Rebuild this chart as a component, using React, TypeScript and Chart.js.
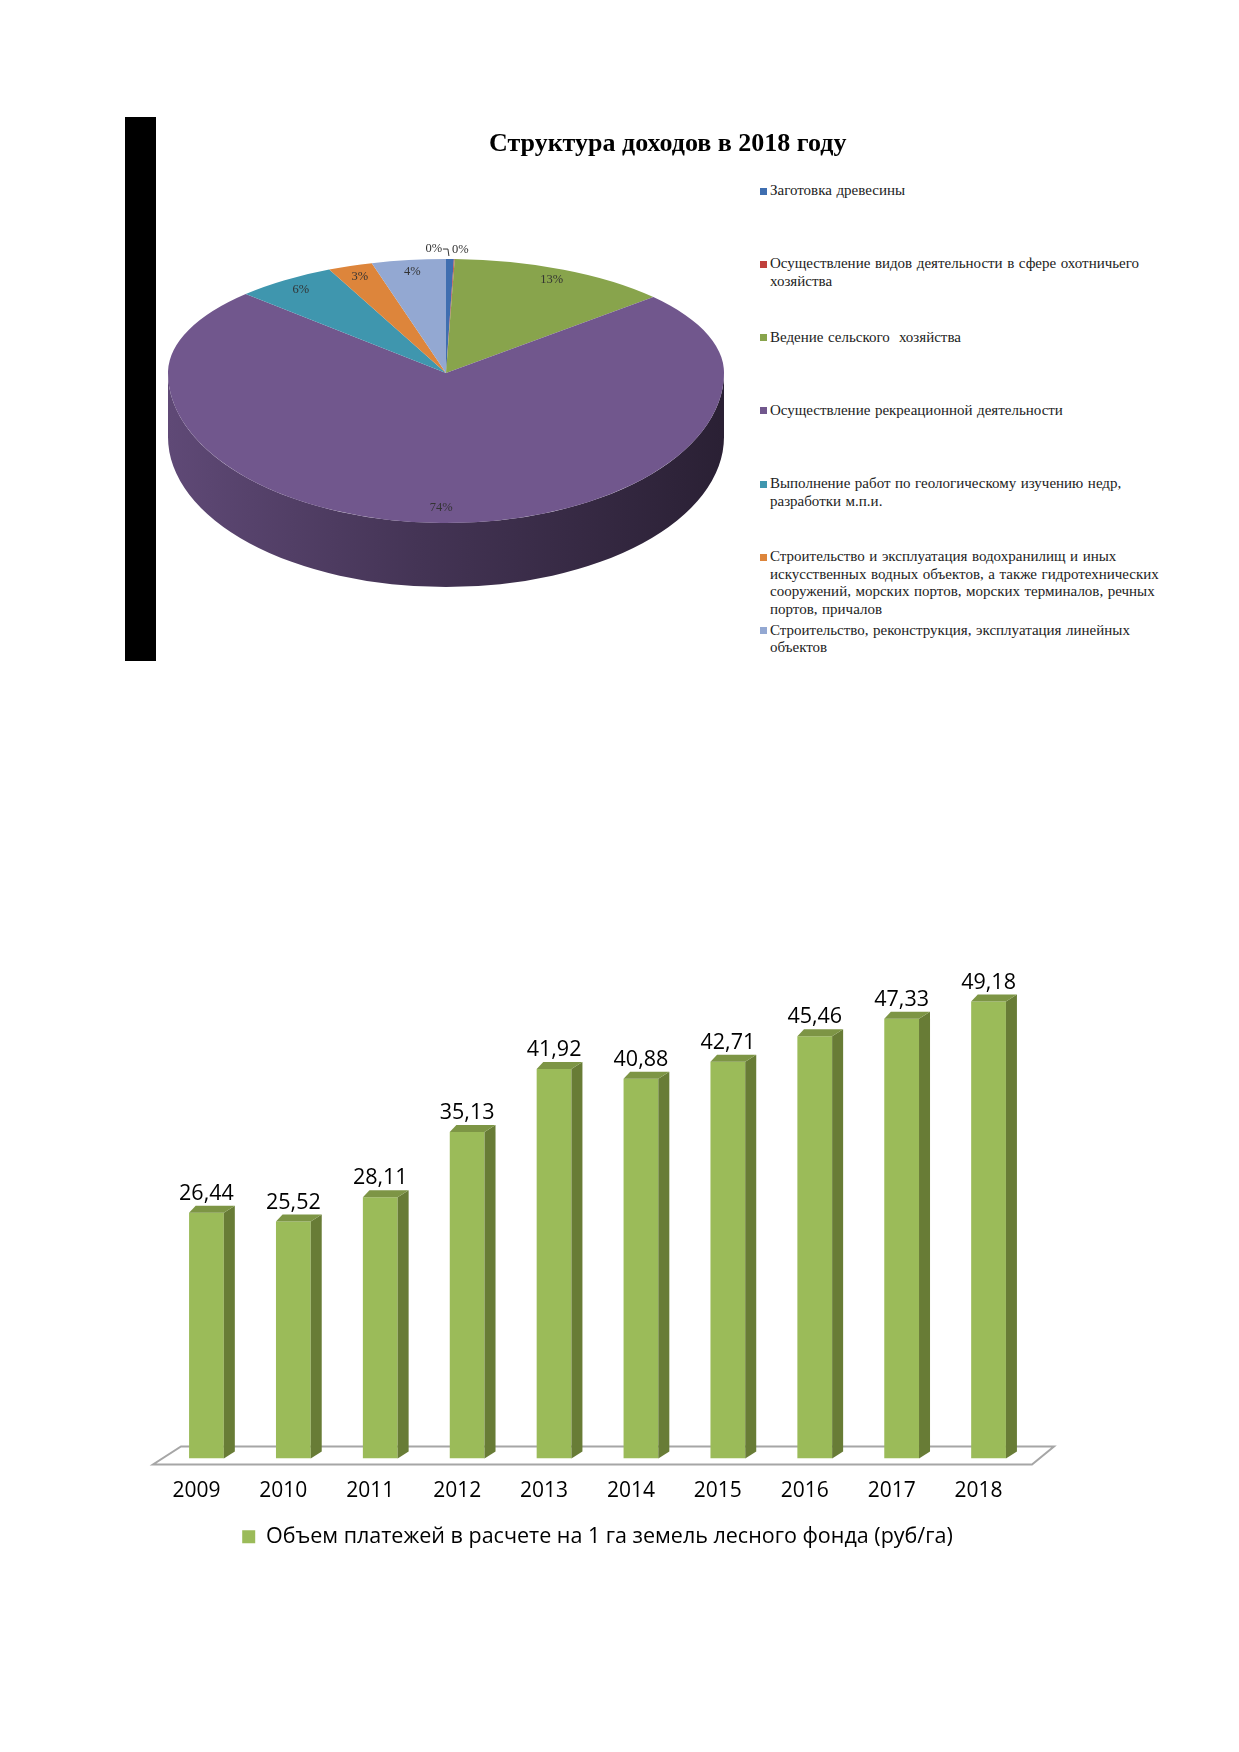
import { useEffect, useRef } from "react";
import Chart from "chart.js/auto";

// --- pie: structure of income, 2018 ---
const PIE_TITLE = "Структура доходов в 2018 году";
const PIE_LABELS = [
  "Заготовка древесины",
  "Осуществление видов деятельности в сфере охотничьего\nхозяйства",
  "Ведение сельского  хозяйства",
  "Осуществление рекреационной деятельности",
  "Выполнение работ по геологическому изучению недр,\nразработки м.п.и.",
  "Строительство и эксплуатация водохранилищ и иных\nискусственных водных объектов, а также гидротехнических\nсооружений, морских портов, морских терминалов, речных\nпортов, причалов",
  "Строительство, реконструкция, эксплуатация линейных\nобъектов",
];
const PIE_VALUES = [0.45, 0.05, 12.9, 73.8, 5.9, 2.6, 4.3];
const PIE_COLORS = ["#3f6eb0", "#c0403c", "#88a44c", "#71578d", "#3f96ae", "#dd853b", "#93a8d2"];

// --- bars: payments per 1 ha of forest fund ---
const YEARS = ["2009", "2010", "2011", "2012", "2013", "2014", "2015", "2016", "2017", "2018"];
const PAYMENTS = [26.44, 25.52, 28.11, 35.13, 41.92, 40.88, 42.71, 45.46, 47.33, 49.18];
const BAR_SERIES = "Объем платежей в расчете на 1 га земель лесного фонда (руб/га)";

const BAR_FRONT = "#9bbb59";
const BAR_SIDE = "#687c36";
const BAR_TOP = "#7d9545";

// fake perspective for the pie: far half flatter than the near half
const TOP_SQUASH = 0.41;
const BOTTOM_SQUASH = 0.54;
const PIE_DEPTH = 64;

function shade(hex: string, f: number) {
  const n = parseInt(hex.slice(1), 16);
  const r = Math.round(((n >> 16) & 255) * f);
  const g = Math.round(((n >> 8) & 255) * f);
  const b = Math.round((n & 255) * f);
  return `rgb(${r}, ${g}, ${b})`;
}

const pie3d = {
  id: "pie3d",
  beforeDatasetsDraw(chart: any) {
    const { ctx, width, height } = chart;
    const arcs = chart.getDatasetMeta(0).data as any[];
    const { x: cx, y: cy, outerRadius: r } = arcs[0];
    const ryB = r * BOTTOM_SQUASH;

    // side wall, only the front half is visible
    arcs.forEach((arc, i) => {
      const a0 = Math.max(arc.startAngle, 0);
      const a1 = Math.min(arc.endAngle, Math.PI);
      if (a1 <= a0) return;
      const g = ctx.createLinearGradient(cx - r, 0, cx + r, 0);
      g.addColorStop(0, shade(PIE_COLORS[i], 0.84));
      g.addColorStop(0.45, shade(PIE_COLORS[i], 0.6));
      g.addColorStop(1, shade(PIE_COLORS[i], 0.37));
      ctx.save();
      ctx.beginPath();
      ctx.ellipse(cx, cy, r, ryB, 0, a0, a1);
      ctx.ellipse(cx, cy + PIE_DEPTH, r, ryB, 0, a1, a0, true);
      ctx.closePath();
      ctx.fillStyle = g;
      ctx.fill();
      ctx.restore();
    });

    // top face, drawn twice with a different squash above / below the centre
    const halves: Array<[number, number, number]> = [
      [0, cy, TOP_SQUASH],
      [cy, height - cy, BOTTOM_SQUASH],
    ];
    halves.forEach(([y0, h, k]) => {
      ctx.save();
      ctx.beginPath();
      ctx.rect(0, y0, width, h);
      ctx.clip();
      ctx.translate(cx, cy);
      ctx.scale(1, k);
      ctx.translate(-cx, -cy);
      arcs.forEach((a) => a.draw(ctx));
      ctx.restore();
    });
    return false;
  },
  afterDraw(chart: any) {
    const { ctx } = chart;
    const arcs = chart.getDatasetMeta(0).data as any[];
    const { x: cx, y: cy, outerRadius: r } = arcs[0];
    const total = PIE_VALUES.reduce((s, v) => s + v, 0);
    ctx.save();
    ctx.font = '12.5px "Liberation Serif", serif';
    ctx.fillStyle = "#333";
    ctx.strokeStyle = "#333";
    ctx.lineWidth = 1;
    ctx.textAlign = "center";
    ctx.textBaseline = "middle";
    arcs.forEach((arc, i) => {
      const share = PIE_VALUES[i] / total;
      const text = `${Math.round(share * 100)}%`;
      const mid = (arc.startAngle + arc.endAngle) / 2;
      const k = Math.sin(mid) < 0 ? TOP_SQUASH : BOTTOM_SQUASH;
      if (share < 0.01) {
        const px = cx + r * Math.cos(mid);
        const py = cy + r * k * Math.sin(mid);
        if (i % 2 === 0) {
          ctx.fillText(text, px - 16, py - 10);
          ctx.beginPath();
          ctx.moveTo(px - 7, py - 10);
          ctx.lineTo(px - 2, py - 10);
          ctx.lineTo(px - 1, py - 3);
          ctx.stroke();
        } else {
          ctx.fillText(text, px + 6, py - 9);
        }
      } else {
        const f = 0.9;
        ctx.fillText(text, cx + f * r * Math.cos(mid), cy + f * r * k * Math.sin(mid));
      }
    });
    ctx.restore();
  },
};

const bar3d = {
  id: "bar3d",
  beforeDatasetsDraw(chart: any) {
    const { ctx, chartArea } = chart;
    const base = chart.scales.y.getPixelForValue(0);
    ctx.save();
    ctx.beginPath();
    ctx.moveTo(chartArea.left - 10, base + 6);
    ctx.lineTo(chartArea.right, base + 6);
    ctx.lineTo(chartArea.right + 22, base - 12);
    ctx.lineTo(chartArea.left + 18, base - 12);
    ctx.closePath();
    ctx.fillStyle = "#ffffff";
    ctx.fill();
    ctx.strokeStyle = "#a6a6a6";
    ctx.lineWidth = 2;
    ctx.stroke();
    ctx.restore();
  },
  afterDatasetsDraw(chart: any) {
    const { ctx } = chart;
    const dx = 11;
    const dy = 7;
    ctx.save();
    chart.getDatasetMeta(0).data.forEach((bar: any, i: number) => {
      const { x, y, base, width } = bar.getProps(["x", "y", "base", "width"], true);
      const l = x - width / 2;
      const r = x + width / 2;
      ctx.fillStyle = BAR_SIDE;
      ctx.beginPath();
      ctx.moveTo(r, base);
      ctx.lineTo(r + dx, base - dy);
      ctx.lineTo(r + dx, y - dy);
      ctx.lineTo(r, y);
      ctx.closePath();
      ctx.fill();
      ctx.fillStyle = BAR_TOP;
      ctx.beginPath();
      ctx.moveTo(l, y);
      ctx.lineTo(r, y);
      ctx.lineTo(r + dx, y - dy);
      ctx.lineTo(l + dx * 0.6, y - dy);
      ctx.closePath();
      ctx.fill();
      ctx.font = '21.5px "Open Sans", sans-serif';
      ctx.fillStyle = "#000";
      ctx.textAlign = "center";
      ctx.textBaseline = "middle";
      ctx.fillText(PAYMENTS[i].toFixed(2).replace(".", ","), x, y - 19);
    });
    ctx.restore();
  },
};

function PieChart() {
  const ref = useRef<HTMLCanvasElement>(null);
  useEffect(() => {
    if (!ref.current) return;
    const chart = new Chart(ref.current, {
      type: "pie",
      data: {
        labels: PIE_LABELS.map((l) => l.replace(/\n/g, " ")),
        datasets: [{ data: PIE_VALUES, backgroundColor: PIE_COLORS, borderWidth: 0, radius: 278 } as any],
      },
      options: {
        responsive: false,
        animation: false,
        layout: { padding: 0 },
        plugins: { legend: { display: false }, tooltip: { enabled: false } },
      },
      plugins: [pie3d],
    });
    return () => chart.destroy();
  }, []);
  return <canvas ref={ref} width={560} height={560} style={{ position: "absolute", left: 166, top: 93 }} />;
}

function BarChart() {
  const ref = useRef<HTMLCanvasElement>(null);
  useEffect(() => {
    if (!ref.current) return;
    const chart = new Chart(ref.current, {
      type: "bar",
      data: {
        labels: YEARS,
        datasets: [
          {
            label: BAR_SERIES,
            data: PAYMENTS,
            backgroundColor: BAR_FRONT,
            borderWidth: 0,
            categoryPercentage: 1,
            barPercentage: 0.4,
          },
        ],
      },
      options: {
        responsive: false,
        animation: false,
        layout: { padding: { left: 63, right: 108, top: 47.5, bottom: 22.5 } },
        scales: {
          x: {
            grid: { display: false, drawTicks: false },
            border: { display: false },
            ticks: {
              padding: 20,
              labelOffset: -10,
              color: "#000",
              font: { family: "'Open Sans', sans-serif", size: 21 },
            },
          },
          y: { display: false, min: 0, max: 55 },
        },
        plugins: {
          tooltip: { enabled: false },
          legend: {
            position: "bottom",
            labels: {
              boxWidth: 13,
              boxHeight: 13,
              padding: 2.3,
              color: "#000",
              font: { family: "'Open Sans', sans-serif", size: 21.5 },
            },
          },
        },
      },
      plugins: [bar3d],
    });
    return () => chart.destroy();
  }, []);
  return <canvas ref={ref} width={1040} height={680} style={{ position: "absolute", left: 100, top: 900 }} />;
}

export default function App() {
  return (
    <div style={{ position: "absolute", left: 0, top: 0, width: 1239, height: 1752, background: "#fff" }}>
      <div style={{ position: "absolute", left: 125, top: 117, width: 31, height: 544, background: "#000" }} />
      <PieChart />
      <div
        style={{
          position: "absolute",
          left: 489,
          top: 127,
          font: 'bold 26px/32px "Liberation Serif", serif',
          whiteSpace: "nowrap",
          color: "#000",
        }}
      >
        {PIE_TITLE}
      </div>
      <div style={{ position: "absolute", left: 760, top: 182 }}>
        {PIE_LABELS.map((label, i) => (
          <div key={i} style={{ position: "relative", height: 73.3, paddingLeft: 10 }}>
            <span
              style={{ position: "absolute", left: 0, top: 5.5, width: 7, height: 7, background: PIE_COLORS[i] }}
            />
            <div
              style={{
                font: '15px/17.5px "Liberation Serif", serif',
                whiteSpace: "pre",
                wordSpacing: 0.8,
                color: "#222",
              }}
            >
              {label}
            </div>
          </div>
        ))}
      </div>
      <BarChart />
    </div>
  );
}
